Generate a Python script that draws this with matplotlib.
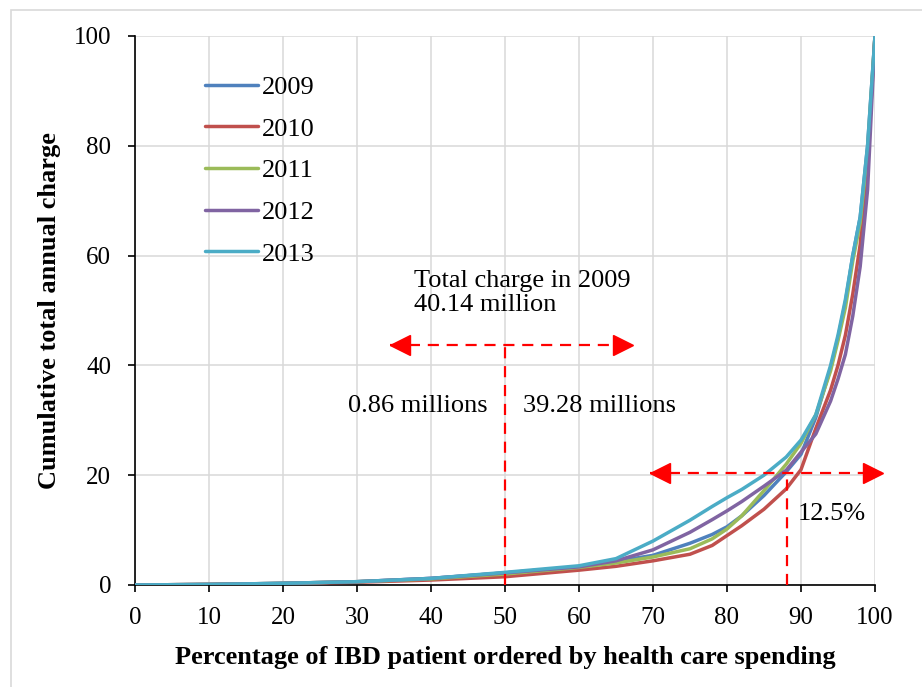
import matplotlib
matplotlib.use("Agg")
import matplotlib.pyplot as plt
from matplotlib.patches import Rectangle
from matplotlib.transforms import offset_copy

plt.rcParams['font.family'] = ['Liberation Serif', 'DejaVu Serif']

# percentage of patients (x) and cumulative share of charge (y) per year
pct = [0, 10, 20, 30, 40, 50, 60, 65, 70, 75, 78, 80, 82, 85, 88, 90, 92, 94, 95, 96, 97, 98, 99, 100]
y2009 = [0, 0.1, 0.3, 0.6, 1.2, 2.2, 3.3, 4.3, 5.4, 7.6, 9.2, 10.6, 12.6, 16.3, 20.6, 23.8, 30.5, 39.5, 45.0, 51.5, 60, 67, 80, 100]
y2010 = [0, 0.1, 0.25, 0.5, 0.9, 1.5, 2.7, 3.4, 4.4, 5.6, 7.2, 9.0, 10.8, 13.8, 17.5, 21.0, 28.5, 35.5, 40.0, 45.5, 53, 62, 77, 100]
y2011 = [0, 0.1, 0.3, 0.6, 1.1, 2.0, 3.2, 4.0, 5.1, 6.6, 8.4, 10.2, 12.6, 17.2, 22.0, 25.8, 31.0, 39.0, 44.5, 50.5, 59, 66, 79, 100]
y2012 = [0, 0.1, 0.3, 0.6, 1.2, 2.2, 3.3, 4.4, 6.4, 9.6, 11.9, 13.5, 15.2, 18.0, 20.9, 24.2, 27.5, 33.5, 37.5, 42.0, 49, 58, 72, 100]
y2013 = [0, 0.1, 0.3, 0.6, 1.2, 2.3, 3.5, 4.8, 8.0, 11.8, 14.3, 15.9, 17.4, 20.0, 23.3, 26.4, 31.0, 40.0, 45.5, 52.0, 60, 67, 80, 100]

years = ['2009', '2010', '2011', '2012', '2013']
series = [y2009, y2010, y2011, y2012, y2013]
colors = ['#4F81BD', '#C0504D', '#9BBB59', '#8064A2', '#4BACC6']

# annotation values
split_x, split_y = 50, 43.7
split_arrow = (34.5, 67.3)
top_x, top_y = 88.1, 20.4
top_arrow = (69.6, 101.0)

fig = plt.figure(figsize=(9.22, 6.87), dpi=100)
ax = fig.add_axes([0.1464, 0.1485, 0.8026, 0.7991])

# light frame around the whole chart
fig.patches.append(Rectangle((10.5 / 922, -0.1), 1.2, 1.1 - 9.5 / 687, transform=fig.transFigure,
                             fill=False, edgecolor='#d9d9d9', linewidth=1.2, zorder=0))

for yr, ys, c in zip(years, series, colors):
    ax.plot(pct, ys, color=c, linewidth=2.5, label=yr, solid_capstyle='round',
            solid_joinstyle='round', zorder=3)

# red dashed guides
red = '#FF0000'
dash = dict(color=red, linewidth=1.6, dashes=(5, 3.5), zorder=4, clip_on=False)
ax.plot(split_arrow, [split_y, split_y], **dash)
ax.plot([split_x, split_x], [0, split_y], **dash)
ax.plot(top_arrow, [top_y, top_y], **dash)
ax.plot([top_x, top_x], [0, top_y], **dash)
left_tr = offset_copy(ax.transData, fig=fig, x=7, y=0, units='points')
right_tr = offset_copy(ax.transData, fig=fig, x=-7, y=0, units='points')
for (x0, x1), yy in [(split_arrow, split_y), (top_arrow, top_y)]:
    ax.plot([x0], [yy], marker='<', color=red, markersize=14, zorder=5, clip_on=False,
            transform=left_tr)
    ax.plot([x1], [yy], marker='>', color=red, markersize=14, zorder=5, clip_on=False,
            transform=right_tr)

fs = 19
ax.text(37.7, 53.2, 'Total charge in 2009\n40.14 million', fontsize=fs, va='center', ha='left',
        linespacing=1.15)
ax.text(28.8, 32.6, '0.86 millions', fontsize=fs, va='center', ha='left')
ax.text(52.4, 32.6, '39.28 millions', fontsize=fs, va='center', ha='left')
ax.text(89.5, 12.9, '12.5%', fontsize=fs, va='center', ha='left')

ax.set_xlim(0, 100)
ax.set_ylim(0, 100)
ax.set_xticks(range(0, 101, 10))
ax.set_yticks(range(0, 101, 20))
ax.grid(True, color='#d9d9d9', linewidth=1.1, zorder=0)
ax.set_axisbelow(True)
for s in ['top', 'right']:
    ax.spines[s].set_visible(False)
for s in ['left', 'bottom']:
    ax.spines[s].set_linewidth(1.2)
ax.tick_params(direction='out', length=5, width=1.2, labelsize=18)
ax.tick_params(axis='x', pad=11)
ax.tick_params(axis='y', pad=12)

ax.set_xlabel('Percentage of IBD patient ordered by health care spending', fontsize=19,
              fontweight='bold', labelpad=12)
ax.set_ylabel('Cumulative total annual charge', fontsize=19, fontweight='bold', labelpad=9)

ax.legend(loc='upper left', bbox_to_anchor=(0.0946, 0.928), frameon=False, fontsize=fs,
          handlelength=2.0, handletextpad=0.15, labelspacing=0.69, borderpad=0, borderaxespad=0)

fig.savefig('out.png', dpi=100)
